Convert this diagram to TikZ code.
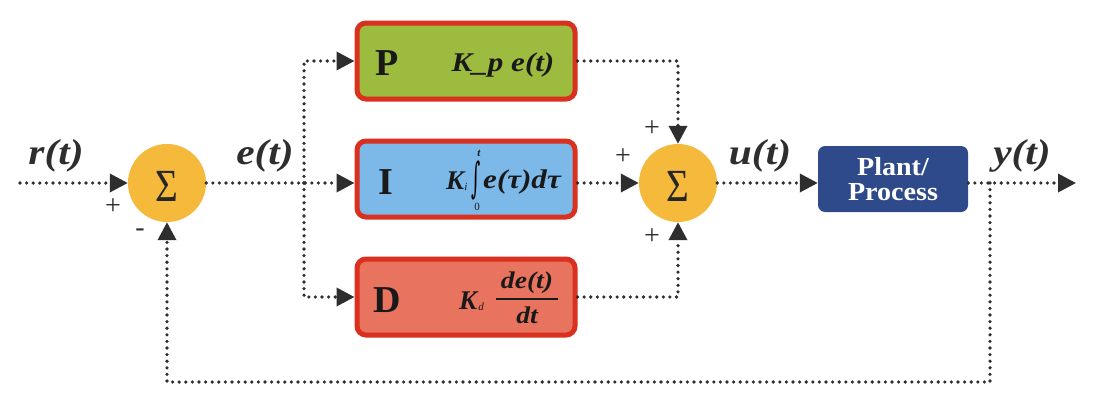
\documentclass[tikz,border=0pt]{standalone}
\usepackage{fontspec}
\setmainfont{Liberation Serif}
\newfontfamily\symfont{DejaVu Serif}
\usetikzlibrary{arrows.meta}
\newcommand\myfs[1]{\fontsize{#1}{#1}\selectfont}
\newcommand\wide[1]{\scalebox{1.15}[1]{#1}}
\definecolor{lineC}{HTML}{2E2E2E}
\definecolor{pC}{HTML}{9DBB3F}
\definecolor{iC}{HTML}{7DB9E8}
\definecolor{dC}{HTML}{E8735F}
\definecolor{bordC}{HTML}{D9301F}
\definecolor{sumC}{HTML}{F5B93B}
\definecolor{plantC}{HTML}{2F4A8B}
\tikzset{
  flow/.style={draw=lineC, line width=3.6pt, line cap=round, dash pattern=on 0pt off 6.6pt},
  arr/.style={flow, -{Triangle[length=18pt,width=18pt]}},
  sumnode/.style={circle, fill=sumC, minimum size=78pt, inner sep=0pt},
  sigma/.style={inner sep=0pt, font=\myfs{46}, text=black!85},
  ctrlbox/.style={rectangle, rounded corners=9pt, draw=bordC, line width=5pt, minimum width=218pt, minimum height=76pt, inner sep=0pt},
  plantbox/.style={rectangle, rounded corners=7pt, fill=plantC, minimum width=150pt, minimum height=66pt, text=white, font=\bfseries\myfs{26}, align=center, inner sep=0pt},
  sig/.style={font=\bfseries\itshape\myfs{36}, text=lineC, inner sep=0pt},
  sign/.style={font=\myfs{28}, text=lineC, inner sep=0pt},
  letter/.style={font=\bfseries\myfs{38}, text=black!90, inner sep=0pt},
  formula/.style={font=\bfseries\itshape\myfs{26}, text=black!90, inner sep=0pt},
  small/.style={font=\itshape\myfs{11}, text=black!90, inner sep=0pt},
}
\begin{document}
\begin{tikzpicture}[x=1pt,y=-1pt]
\fill[white] (0,0) rectangle (1099,415);
\useasboundingbox (0,0) rectangle (1099,415);
% summing junctions
\node[sumnode] (s1) at (167,183) {};
\node[sigma] (sig1) at (167,186) {\scalebox{0.85}[1]{Σ}};
\node[sumnode] (s2) at (678,183) {};
\node[sigma] (sig2) at (678,186) {\scalebox{0.85}[1]{Σ}};
% controller boxes
\node[ctrlbox, fill=pC] (P) at (466,61) {};
\node[ctrlbox, fill=iC] (I) at (466,179) {};
\node[ctrlbox, fill=dC] (D) at (466,297) {};
\node[letter] (PL) at (387,63) {P};
\node[letter] (IL) at (386,182) {I};
\node[letter] (DL) at (387,300) {D};
% P formula
\node[formula, font=\bfseries\itshape\myfs{27}] (PF) at (503,65) {\wide{K\_p e(t)}};
% I formula
\node[formula, font=\bfseries\itshape\myfs{27}] (IK) at (455,181) {K};
\node[small] (Ii) at (466,187) {i};
\node[inner sep=0pt, font=\symfont\myfs{22}] (Iint) at (476,180) {\scalebox{0.8}[1.9]{∫}};
\node[small, font=\itshape\bfseries\myfs{11}] (It) at (479,153) {t};
\node[small, font=\myfs{11}] (I0) at (477,207) {0};
\node[formula, font=\bfseries\itshape\myfs{27}] (Ie) at (522,182) {\wide{e(τ)dτ}};
% D formula
\node[formula, font=\bfseries\itshape\myfs{27}] (DK) at (468,301) {K};
\node[small] (Dd) at (481,307) {d};
\node[formula, font=\bfseries\itshape\myfs{24}] (Dn) at (527,283) {\wide{de(t)}};
\node[formula, font=\bfseries\itshape\myfs{24}] (Dden) at (527,315) {\wide{dt}};
\draw[black!90, line width=1.3pt] (496,299) -- (558,299);
% plant
\node[plantbox] (plant) at (893,179) {\scalebox{1.08}[1]{Plant/}\\[-1pt]\scalebox{1.08}[1]{Process}};
% coordinates
\coordinate (in) at (20,183);
\coordinate (br) at (304,183);
\coordinate (out) at (1076,183);
\coordinate (tap) at (990,183);
\coordinate (fb) at (990,382);
% connectors
\draw[arr] (in) -- (s1.west);
\draw[arr] (s1.east) -- (I.west |- s1.east);
\draw[arr] (br) |- (P.west);
\draw[arr] (br) |- (D.west);
\draw[arr] (P.east) -| (s2.north);
\draw[arr] (I.east |- s2.west) -- (s2.west);
\draw[arr] (D.east) -| (s2.south);
\draw[arr] (s2.east) -- (plant.west |- s2.east);
\draw[arr] (plant.east |- s2.east) -- (out);
\draw[arr] (tap) -- (fb) -| (s1.south);
% signal labels
\node[sig] (rl) at (56,156) {\wide{r(t)}};
\node[sig] (el) at (265,156) {\wide{e(t)}};
\node[sig] (ul) at (760,156) {\wide{u(t)}};
\node[sig] (yl) at (1022,156) {\wide{y(t)}};
% signs
\node[sign] (p1) at (113,207) {+};
\node[sign] (m1) at (140,233) {-};
\node[sign] (p2) at (652,129) {+};
\node[sign] (p3) at (623,157) {+};
\node[sign] (p4) at (652,237) {+};
\end{tikzpicture}
\end{document}
